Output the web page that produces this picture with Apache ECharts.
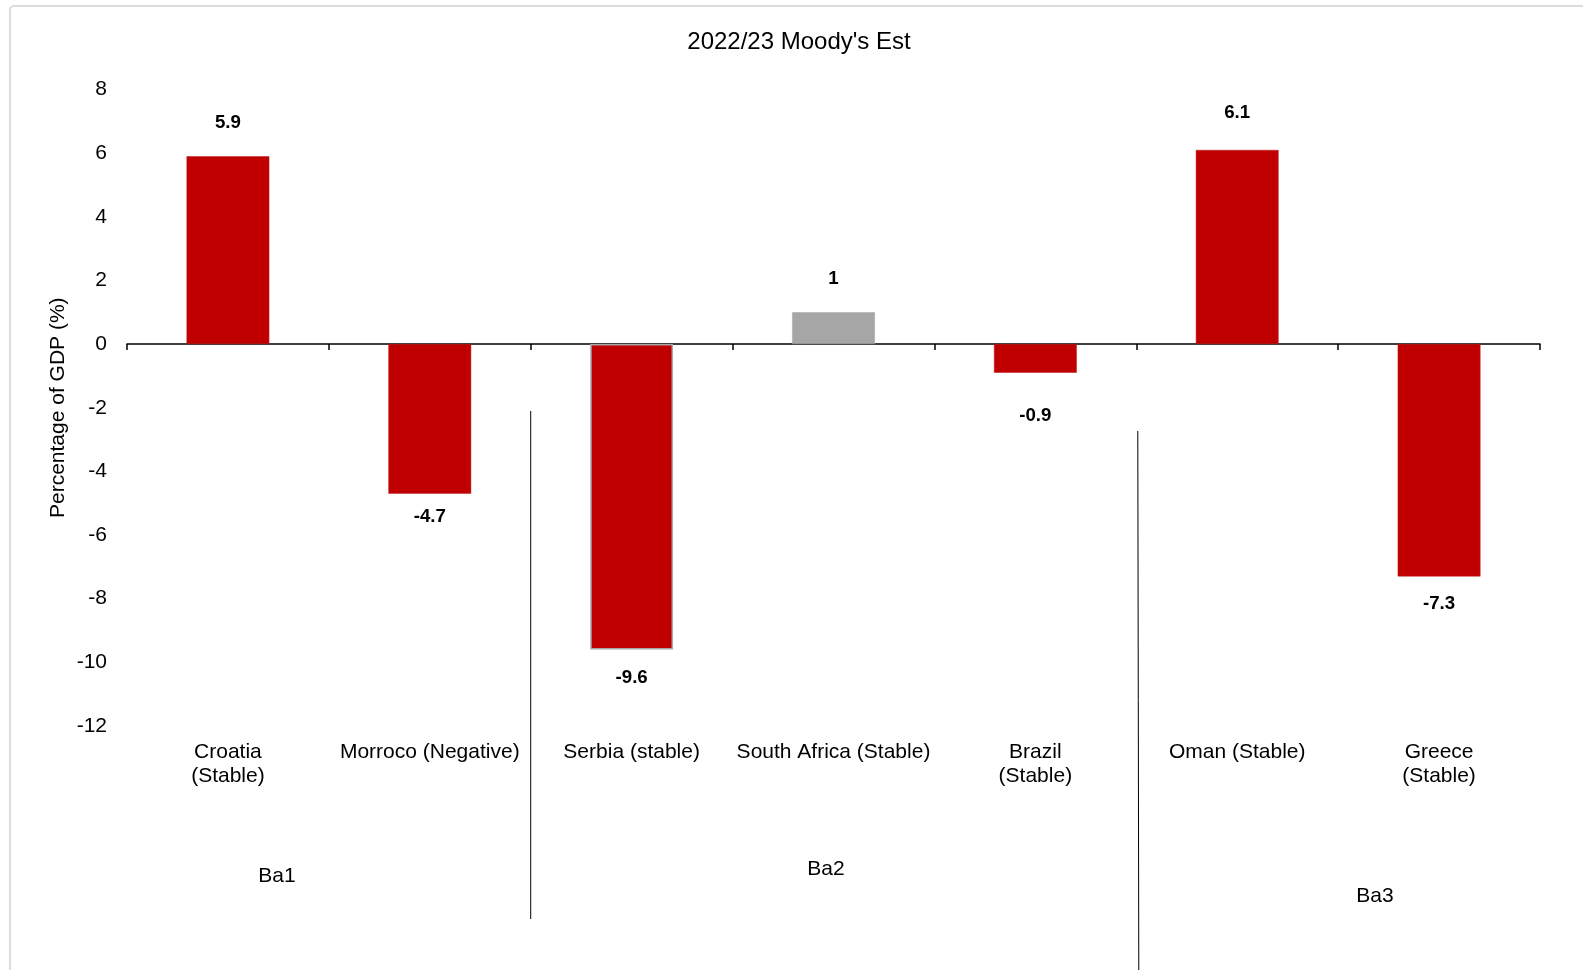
<!DOCTYPE html>
<html>
<head>
<meta charset="utf-8">
<script src="https://cdn.jsdelivr.net/npm/echarts@6/dist/echarts.min.js"></script>
<style>
html,body{margin:0;padding:0;background:#fff;}
#chart{width:1583px;height:970px;}
</style>
</head>
<body>
<div id="chart"></div>
<script>
// ---- data ----
var categories = ['Croatia\n(Stable)', 'Morroco (Negative)', 'Serbia (stable)', 'South Africa (Stable)', 'Brazil\n(Stable)', 'Oman (Stable)', 'Greece\n(Stable)'];
var values = [5.9, -4.7, -9.6, 1, -0.9, 6.1, -7.3];
var groupLabels = ['Ba1', 'Ba2', 'Ba3'];
var yTicks = [-12, -10, -8, -6, -4, -2, 0, 2, 4, 6, 8];
var titleText = "2022/23 Moody's Est";
var yAxisTitle = 'Percentage of GDP (%)';

// ---- styling ----
var FONT = 'Liberation Sans, Arial, sans-serif';
var RED = '#C00000';
var GREY = '#A6A6A6';
var labelGap = [24, 14, 19, 24, 34, 28, 18];

var chart = echarts.init(document.getElementById('chart'), null, {renderer: 'canvas'});

var barData = values.map(function (v, i) {
  return {
    value: v,
    itemStyle: {color: i === 3 ? GREY : RED, borderColor: (i === 2 || i === 3) ? GREY : '#c21a1a', borderWidth: i === 2 ? 1.5 : 0.5},
    label: {position: v >= 0 ? 'top' : 'bottom', distance: labelGap[i]}
  };
});

var option = {
  animation: false,
  backgroundColor: '#ffffff',
  textStyle: {fontFamily: FONT},
  grid: {left: 127, right: 43, top: 89.5, bottom: 244, containLabel: false},
  xAxis: [{
    type: 'category',
    data: categories,
    position: 'bottom',
    axisLine: {show: true, onZero: true, lineStyle: {color: '#000', width: 1.5}},
    axisTick: {show: true, length: 6, inside: false, lineStyle: {color: '#000', width: 1.5}},
    axisLabel: {show: false},
    splitLine: {show: false}
  }, {
    type: 'category',
    data: categories,
    position: 'bottom',
    axisLine: {show: false, onZero: false},
    axisTick: {show: false},
    axisLabel: {show: true, interval: 0, margin: 14, color: '#000', fontFamily: FONT, fontSize: 21, lineHeight: 24, align: 'center'},
    splitLine: {show: false}
  }],
  yAxis: {
    type: 'value',
    min: yTicks[0],
    max: yTicks[yTicks.length - 1],
    interval: 2,
    name: yAxisTitle,
    nameLocation: 'middle',
    nameGap: 58,
    nameMoveOverlap: false,
    nameRotate: 90,
    nameTextStyle: {color: '#000', fontFamily: FONT, fontSize: 21},
    axisLine: {show: false},
    axisTick: {show: false},
    splitLine: {show: false},
    axisLabel: {color: '#000', fontFamily: FONT, fontSize: 21, margin: 20}
  },
  series: [{
    type: 'bar',
    xAxisIndex: 0,
    data: barData,
    barWidth: '41%',
    label: {
      show: true,
      color: '#000',
      fontFamily: FONT,
      fontSize: 18.7,
      fontWeight: 'bold'
    }
  }]
};
chart.setOption(option);

function boundaryX(k) {
  var a = chart.convertToPixel({xAxisIndex: 0}, categories[k - 1]);
  var b = chart.convertToPixel({xAxisIndex: 0}, categories[k]);
  return (a + b) / 2;
}
var sep1 = boundaryX(2);
var sep2 = boundaryX(5) + 1.5;

chart.setOption({
  graphic: [
    {type: 'rect', shape: {x: 10, y: 6, width: 1600, height: 1000, r: 4}, style: {fill: null, stroke: '#dcdcdc', lineWidth: 2}, silent: true, z: -1},
    {type: 'text', x: 799, y: 42, style: {text: titleText, font: '24px ' + FONT, fill: '#000', textAlign: 'center', textVerticalAlign: 'middle'}},
    {type: 'line', shape: {x1: sep1, y1: 411, x2: sep1, y2: 919}, style: {stroke: '#000', lineWidth: 1}},
    {type: 'line', shape: {x1: sep2, y1: 431, x2: sep2 + 1, y2: 970}, style: {stroke: '#000', lineWidth: 1}},
    {type: 'text', x: 277, y: 876, style: {text: groupLabels[0], font: '21px ' + FONT, fill: '#000', textAlign: 'center', textVerticalAlign: 'middle'}},
    {type: 'text', x: 826, y: 869, style: {text: groupLabels[1], font: '21px ' + FONT, fill: '#000', textAlign: 'center', textVerticalAlign: 'middle'}},
    {type: 'text', x: 1375, y: 896, style: {text: groupLabels[2], font: '21px ' + FONT, fill: '#000', textAlign: 'center', textVerticalAlign: 'middle'}}
  ]
});
</script>
</body>
</html>
